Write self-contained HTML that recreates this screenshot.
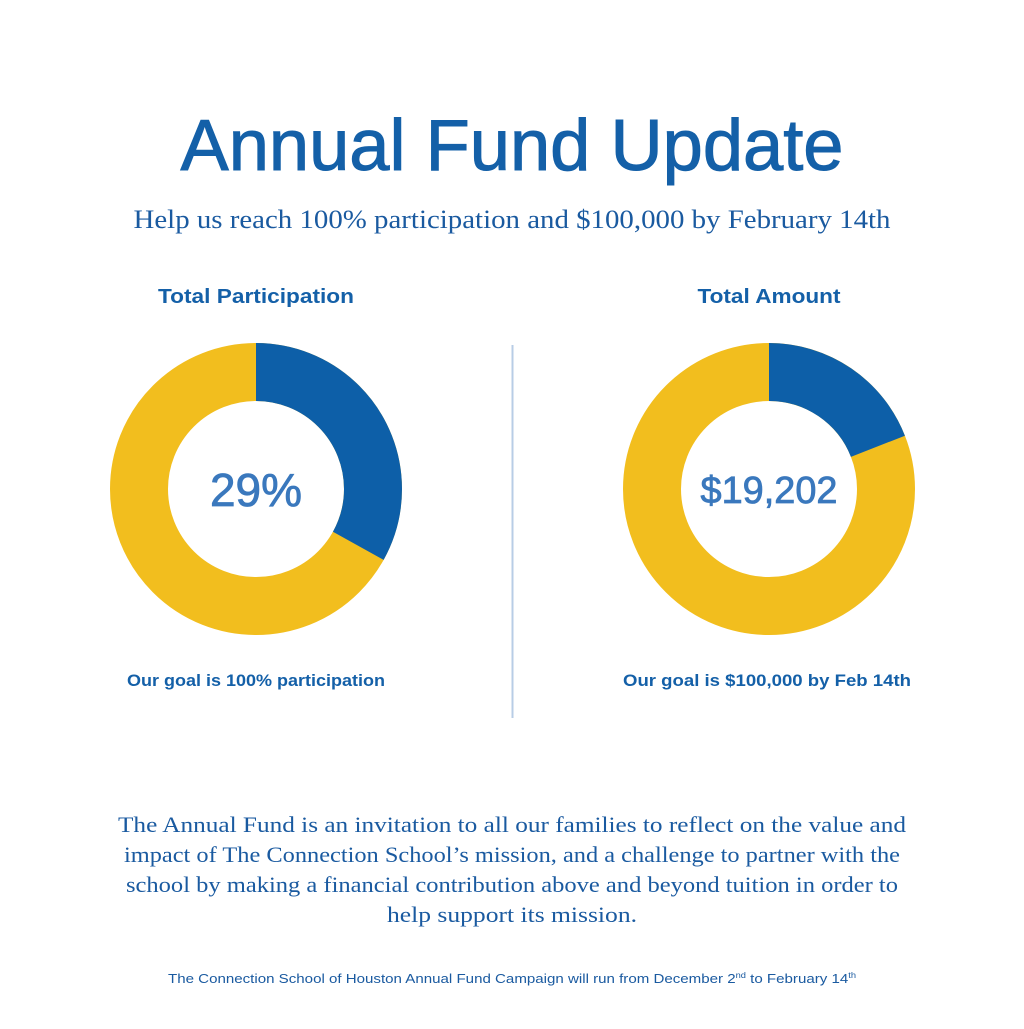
<!DOCTYPE html>
<html><head><meta charset="utf-8"><style>html,body{margin:0;padding:0;background:#fff}</style></head>
<body>
<svg width="1024" height="1024" viewBox="0 0 1024 1024" xmlns="http://www.w3.org/2000/svg">
<rect width="1024" height="1024" fill="#fff"/>
<text x="512" y="170" text-anchor="middle" font-family="Liberation Sans, sans-serif" font-size="72" fill="#1460a8" textLength="663" lengthAdjust="spacingAndGlyphs" stroke="#1460a8" stroke-width="1">Annual Fund Update</text>
<text x="512" y="228" text-anchor="middle" font-family="Liberation Serif, serif" font-size="26" fill="#1a5aa0" textLength="757" lengthAdjust="spacingAndGlyphs">Help us reach 100% participation and $100,000 by February 14th</text>
<text x="256" y="303" text-anchor="middle" font-family="Liberation Sans, sans-serif" font-weight="bold" font-size="20" fill="#1460a8" textLength="196" lengthAdjust="spacingAndGlyphs">Total Participation</text>
<text x="769" y="303" text-anchor="middle" font-family="Liberation Sans, sans-serif" font-weight="bold" font-size="20" fill="#1460a8" textLength="143" lengthAdjust="spacingAndGlyphs">Total Amount</text>
<line x1="512.5" y1="345" x2="512.5" y2="718" stroke="#b8cde6" stroke-width="2"/>
<g transform="translate(256,489) rotate(-90)">
<circle r="117" fill="none" stroke="#f2be1e" stroke-width="58"/>
<circle r="117" fill="none" stroke="#0d5fa8" stroke-width="58" stroke-dasharray="243 800"/>
</g>
<g transform="translate(769,489) rotate(-90)">
<circle r="117" fill="none" stroke="#f2be1e" stroke-width="58"/>
<circle r="117" fill="none" stroke="#0d5fa8" stroke-width="58" stroke-dasharray="140 800"/>
</g>
<text x="256" y="506" text-anchor="middle" font-family="Liberation Sans, sans-serif" font-size="46" fill="#3a78bd" stroke="#3a78bd" stroke-width="0.8">29%</text>
<text x="769" y="503" text-anchor="middle" font-family="Liberation Sans, sans-serif" font-size="38" fill="#3a78bd" stroke="#3a78bd" stroke-width="0.8" textLength="137" lengthAdjust="spacingAndGlyphs">$19,202</text>
<text x="256" y="686" text-anchor="middle" font-family="Liberation Sans, sans-serif" font-weight="bold" font-size="17" fill="#1460a8" textLength="258" lengthAdjust="spacingAndGlyphs">Our goal is 100% participation</text>
<text x="767" y="686" text-anchor="middle" font-family="Liberation Sans, sans-serif" font-weight="bold" font-size="17" fill="#1460a8" textLength="288" lengthAdjust="spacingAndGlyphs">Our goal is $100,000 by Feb 14th</text>
<g font-family="Liberation Serif, serif" font-size="22" fill="#1a5aa0" text-anchor="middle">
<text x="512" y="832" textLength="788" lengthAdjust="spacingAndGlyphs">The Annual Fund is an invitation to all our families to reflect on the value and</text>
<text x="512" y="862" textLength="776" lengthAdjust="spacingAndGlyphs">impact of The Connection School’s mission, and a challenge to partner with the</text>
<text x="512" y="892" textLength="772" lengthAdjust="spacingAndGlyphs">school by making a financial contribution above and beyond tuition in order to</text>
<text x="512" y="922" textLength="250" lengthAdjust="spacingAndGlyphs">help support its mission.</text>
</g>
<text x="512" y="983" text-anchor="middle" font-family="Liberation Sans, sans-serif" font-size="13" fill="#1a5aa0" textLength="688" lengthAdjust="spacingAndGlyphs">The Connection School of Houston Annual Fund Campaign will run from December 2<tspan font-size="8" dy="-5">nd</tspan><tspan dy="5"> to February 14</tspan><tspan font-size="8" dy="-5">th</tspan></text>
</svg>
</body></html>
